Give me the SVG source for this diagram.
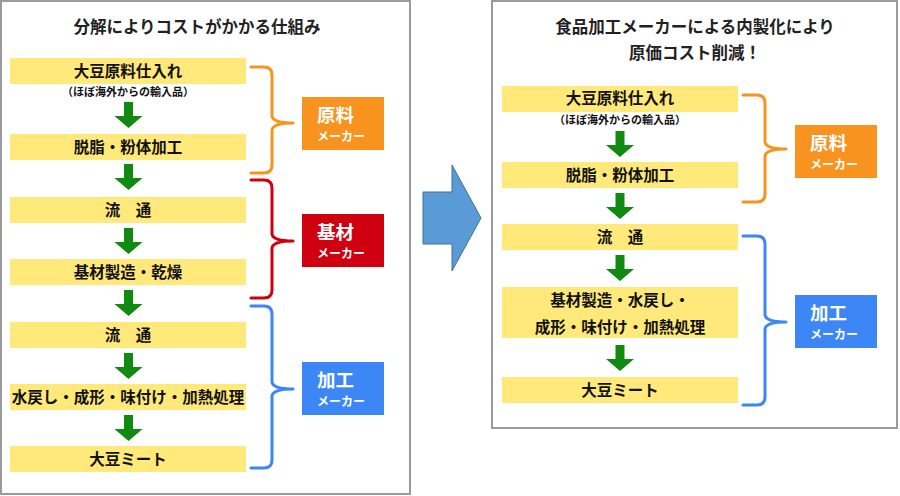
<svg xmlns="http://www.w3.org/2000/svg" xmlns:xlink="http://www.w3.org/1999/xlink" width="900" height="496" viewBox="0 0 900 496">
<style>
text{font-family:"Noto Sans CJK JP","Noto Sans CJK SC",sans-serif;font-weight:bold;fill:#111}
.panel{fill:#fff;stroke:#9a9a9a;stroke-width:2}
.title{font-size:16.5px;text-anchor:middle;fill:#222}
.box{fill:#FFE97A}
.bt{font-size:15.5px;text-anchor:middle}
.sub{font-size:11px;text-anchor:middle}
.garrow{fill:#108A10}
.brace{fill:none;stroke-width:3;stroke-linecap:round;stroke-linejoin:round}
.lb{font-size:18.5px;fill:#fff}
.ls{font-size:12px;fill:#fff}
</style>
<defs>
<path id="ga" d="M -4.5 0 H 4.5 V 14 H 14 L 0 26 L -14 14 H -4.5 Z"/>
</defs>
<rect width="900" height="496" fill="#fff"/>
<g id="left-panel">
<rect class="panel" x="1" y="1" width="409" height="493"/>
<text class="title" x="197" y="33">分解によりコストがかかる仕組み</text>
</g>
<g id="right-panel">
<rect class="panel" x="492" y="1" width="405" height="427"/>
<text class="title" x="695" y="33">食品加工メーカーによる内製化により</text>
<text class="title" x="695" y="59">原価コスト削減！</text>
</g>
<g id="L1"><rect class="box" x="10" y="58" width="236" height="26"/><text class="bt" x="128" y="76.5">大豆原料仕入れ</text><text class="sub" x="128" y="96">（ほぼ海外からの輸入品）</text></g>
<g id="L2"><rect class="box" x="10" y="134" width="236" height="26"/><text class="bt" x="128" y="152.5">脱脂・粉体加工</text></g>
<g id="L3"><rect class="box" x="10" y="197" width="236" height="26"/><text class="bt" x="128" y="215.5">流　通</text></g>
<g id="L4"><rect class="box" x="10" y="259" width="236" height="26"/><text class="bt" x="128" y="277.5">基材製造・乾燥</text></g>
<g id="L5"><rect class="box" x="10" y="322" width="236" height="26"/><text class="bt" x="128" y="340.5">流　通</text></g>
<g id="L6"><rect class="box" x="10" y="384" width="236" height="26"/><text class="bt" x="128" y="402.5">水戻し・成形・味付け・加熱処理</text></g>
<g id="L7"><rect class="box" x="10" y="446" width="236" height="26"/><text class="bt" x="128" y="464.5">大豆ミート</text></g>
<g id="R1"><rect class="box" x="502" y="86" width="236" height="26"/><text class="bt" x="620" y="104">大豆原料仕入れ</text><text class="sub" x="620" y="124">（ほぼ海外からの輸入品）</text></g>
<g id="R2"><rect class="box" x="502" y="162" width="236" height="26"/><text class="bt" x="620" y="180.5">脱脂・粉体加工</text></g>
<g id="R3"><rect class="box" x="502" y="224" width="236" height="26"/><text class="bt" x="620" y="242.5">流　通</text></g>
<g id="R4"><rect class="box" x="502" y="287" width="236" height="51"/><text class="bt" x="620" y="305.5">基材製造・水戻し・</text><text class="bt" x="620" y="332.5">成形・味付け・加熱処理</text></g>
<g id="R5"><rect class="box" x="502" y="377" width="236" height="26"/><text class="bt" x="620" y="395.5">大豆ミート</text></g>
<g id="maker-L-raw"><rect x="302" y="97" width="82" height="53" fill="#F7931E"/><text class="lb" x="317" y="122">原料</text><text class="ls" x="317" y="141">メーカー</text></g>
<g id="maker-L-base"><rect x="302" y="214" width="82" height="53" fill="#CF0010"/><text class="lb" x="317" y="239">基材</text><text class="ls" x="317" y="258">メーカー</text></g>
<g id="maker-L-proc"><rect x="302" y="362" width="82" height="53" fill="#3D86F5"/><text class="lb" x="317" y="387">加工</text><text class="ls" x="317" y="406">メーカー</text></g>
<g id="maker-R-raw"><rect x="795" y="125" width="82" height="53" fill="#F7931E"/><text class="lb" x="810" y="150">原料</text><text class="ls" x="810" y="169">メーカー</text></g>
<g id="maker-R-proc"><rect x="795" y="295" width="82" height="53" fill="#3D86F5"/><text class="lb" x="810" y="320">加工</text><text class="ls" x="810" y="339">メーカー</text></g>
<g id="big-arrow"><polygon points="423,192 452,192 452,165 481,218 452,271 452,244 423,244" fill="#5B9BD5" stroke="#41719C" stroke-width="1"/></g>
<g id="connectors">
<g class="garrow">
<use xlink:href="#ga" href="#ga" x="128.5" y="102"/>
<use xlink:href="#ga" href="#ga" x="128.5" y="164"/>
<use xlink:href="#ga" href="#ga" x="128.5" y="228"/>
<use xlink:href="#ga" href="#ga" x="128.5" y="290"/>
<use xlink:href="#ga" href="#ga" x="128.5" y="353"/>
<use xlink:href="#ga" href="#ga" x="128.5" y="415"/>
<use xlink:href="#ga" href="#ga" x="620" y="131"/>
<use xlink:href="#ga" href="#ga" x="620" y="193"/>
<use xlink:href="#ga" href="#ga" x="620" y="255"/>
<use xlink:href="#ga" href="#ga" x="620" y="345"/>
</g>
<path class="brace" stroke="#F7931E" d="M 251 67 H 264 Q 272 67 272 75 V 116 Q 273 123 293 123 Q 273 123 272 130 V 165 Q 272 173 264 173 H 251"/>
<path class="brace" stroke="#CF0010" d="M 251 180 H 264 Q 272 180 272 188 V 234 Q 273 241 293 241 Q 273 241 272 248 V 290 Q 272 298 264 298 H 251"/>
<path class="brace" stroke="#3D86F5" d="M 251 306 H 264 Q 272 306 272 314 V 382 Q 273 389 293 389 Q 273 389 272 396 V 460 Q 272 468 264 468 H 251"/>
<path class="brace" stroke="#F7931E" d="M 743 95 H 757 Q 765 95 765 103 V 142 Q 766 149 786 149 Q 766 149 765 156 V 194 Q 765 202 757 202 H 743"/>
<path class="brace" stroke="#3D86F5" d="M 743 236 H 757 Q 765 236 765 244 V 315 Q 766 322 786 322 Q 766 322 765 329 V 397 Q 765 405 757 405 H 743"/>
</g>
</svg>
